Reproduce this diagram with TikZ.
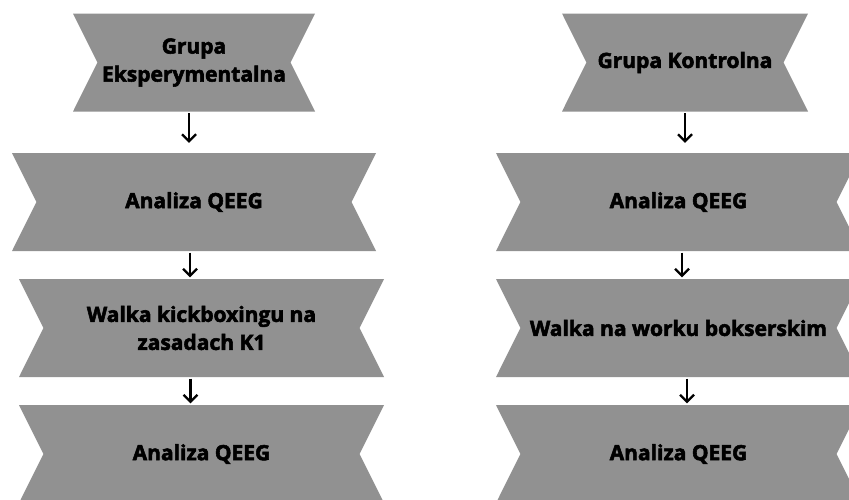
\documentclass[tikz,border=0pt]{standalone}
\usepackage{fontspec}
\IfFontExistsTF{Open Sans ExtraBold}{\setmainfont{Open Sans}[BoldFont={Open Sans ExtraBold}]}{\setmainfont{Open Sans}[BoldFeatures={FakeBold=2.6}]}
\usetikzlibrary{shapes.symbols,arrows.meta}
\definecolor{bannergray}{RGB}{145,145,145}

\begin{document}
\begin{tikzpicture}[line cap=butt,line join=miter,x=1pt,y=-1pt,>={Straight Barb[length=7pt,width=14pt]},
	banner/.style={shape=signal,signal from=west and east,signal to=nowhere,signal pointer angle=127,fill=bannergray,minimum height=98pt,inner sep=0pt,align=center,font=\fontsize{21}{28}\selectfont\bfseries},
	link/.style={->,line width=2.2pt,shorten <=1.5pt,shorten >=1.5pt}]
	\useasboundingbox (0,0) rectangle (849,499);
	\clip (0,0) rectangle (849,499);
	% grupa eksperymentalna
	\node[banner,minimum width=242pt] (ge) at (194,62.5) {Grupa\\Eksperymentalna};
	\node[banner,minimum width=364pt] (qe1) at (194,202) {Analiza QEEG};
	\node[banner,minimum width=365pt] (wk) at (201.5,328) {Walka kickboxingu na\\zasadach K1};
	\node[banner,minimum width=365pt] (qe2) at (201.5,454) {Analiza QEEG};
	\draw[link,shorten >=10pt] ([xshift=-5pt]ge.south) -- ([xshift=-5pt]ge.south |- qe1.north);
	\draw[link] ([xshift=-4pt]qe1.south) -- ([xshift=-4pt]qe1.south |- wk.north);
	\draw[link] ([xshift=-11pt]wk.south) -- ([xshift=-11pt]wk.south |- qe2.north);
	% grupa kontrolna
	\node[banner,minimum width=246pt] (gk) at (685,62.5) {Grupa Kontrolna};
	\node[banner,minimum width=365pt] (qk1) at (678.5,202) {Analiza QEEG};
	\node[banner,minimum width=365pt] (wb) at (678.5,328) {Walka na worku bokserskim};
	\node[banner,minimum width=365pt] (qk2) at (678.5,454) {Analiza QEEG};
	\draw[link,shorten >=10pt] (gk.south) -- (gk.south |- qk1.north);
	\draw[link] ([xshift=3.5pt]qk1.south) -- ([xshift=3.5pt]qk1.south |- wb.north);
	\draw[link] ([xshift=8.5pt]wb.south) -- ([xshift=8.5pt]wb.south |- qk2.north);
\end{tikzpicture}
\end{document}
